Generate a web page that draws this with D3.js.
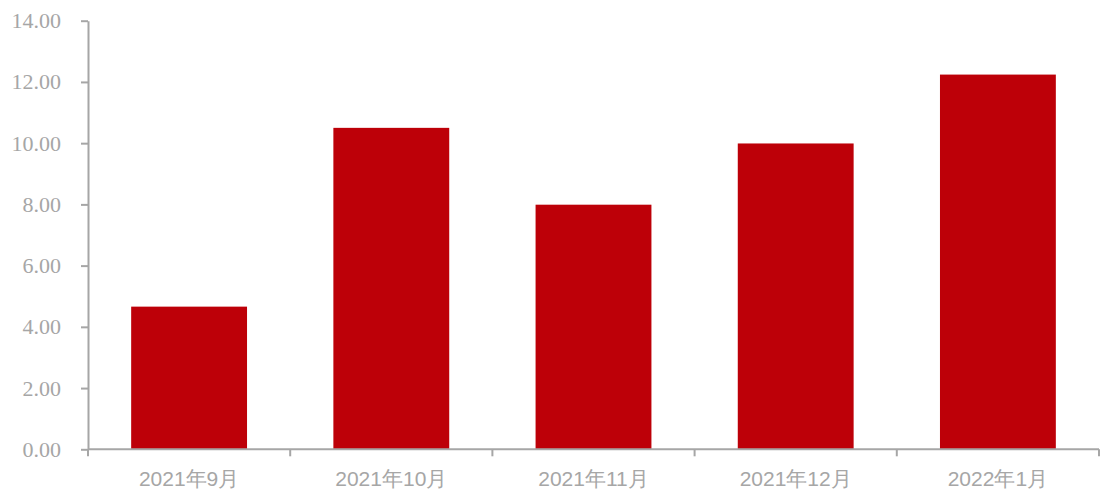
<!DOCTYPE html>
<html><head><meta charset="utf-8">
<script src="https://cdn.jsdelivr.net/npm/d3@7"></script>
<style>body{margin:0;background:#fff}svg{display:block}</style>
</head><body>
<svg id="chart" width="1100" height="491"></svg>
<script>
const categories = ["2021年9月","2021年10月","2021年11月","2021年12月","2022年1月"];
const values = [4.66, 10.50, 7.99, 9.99, 12.24];
const yTicks = [0,2,4,6,8,10,12,14];

const svg = d3.select("#chart");
const m = {left:88, right:1099, top:20.7, bottom:449.3};
const x = d3.scaleBand().domain(categories).range([m.left, m.right]).paddingInner(0.427).paddingOuter(0.2135);
const y = d3.scaleLinear().domain([0,14]).range([m.bottom, m.top]);
const grey = "#a6a6a6";

svg.selectAll("rect.bar").data(values).join("rect")
  .attr("class","bar")
  .attr("x",(d,i)=>x(categories[i]))
  .attr("width",x.bandwidth())
  .attr("y",d=>y(d))
  .attr("height",d=>y(0)-y(d))
  .attr("fill","#bd0008");

const yAxis = svg.append("g").attr("transform",`translate(${m.left},0)`)
  .call(d3.axisLeft(y).tickValues(yTicks).tickFormat(d3.format(".2f")).tickSizeInner(7).tickSizeOuter(0).tickPadding(20));
yAxis.selectAll("path,line").attr("stroke",grey).attr("stroke-width",2);
yAxis.selectAll("text").attr("fill",grey).style("font-family","'Liberation Serif','Times New Roman',serif").style("font-size","22px");

const xg = svg.append("g").attr("transform",`translate(0,${m.bottom})`);
xg.append("line").attr("x1",m.left).attr("x2",m.right).attr("stroke",grey).attr("stroke-width",2);
const bounds = d3.range(categories.length+1).map(i=>m.left + i*(m.right-m.left)/categories.length);
xg.selectAll("line.tk").data(bounds).join("line").attr("class","tk")
  .attr("x1",d=>d).attr("x2",d=>d).attr("y1",0).attr("y2",7).attr("stroke",grey).attr("stroke-width",2);
xg.selectAll("text").data(categories).join("text")
  .attr("x",d=>x(d)+x.bandwidth()/2).attr("y",37)
  .attr("text-anchor","middle")
  .attr("fill",grey)
  .style("font-family","'Liberation Sans Narrow','Liberation Sans',Arial,sans-serif")
  .style("font-size","21px")
  .text(d=>d);
</script>
</body></html>
